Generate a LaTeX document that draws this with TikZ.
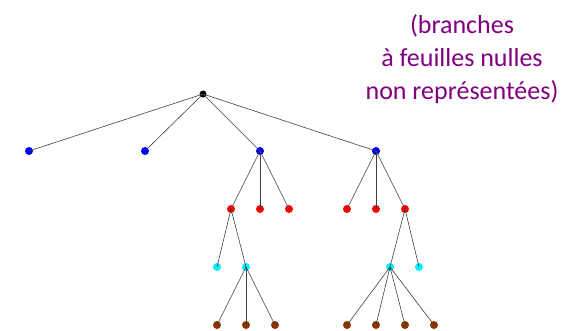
\documentclass[tikz,border=0pt]{standalone}
\usepackage{fontspec}
\setmainfont{Carlito}
\definecolor{notepurple}{RGB}{128,0,128}
\definecolor{leafbrown}{RGB}{140,50,0}
\definecolor{aqua}{RGB}{0,240,255}
\begin{document}
\begin{tikzpicture}[x=1pt,y=-1pt,
  dot/.style={circle,inner sep=0pt,minimum size=8pt,fill=#1},
  branch/.style={draw=black!75,line width=0.6pt},
  note/.style={text=notepurple,font=\fontsize{26}{33}\selectfont,align=center}]
\useasboundingbox (0,0) rectangle (565,330);
% root
\node[dot=black,minimum size=7pt] (r) at (203,94) {};
% first level
\node[dot=blue] (a1) at (29,151) {};
\node[dot=blue] (a2) at (145,151) {};
\node[dot=blue] (a3) at (260,151) {};
\node[dot=blue] (a4) at (376,151) {};
% second level
\node[dot=red] (b1) at (231,209) {};
\node[dot=red] (b2) at (260,209) {};
\node[dot=red] (b3) at (289,209) {};
\node[dot=red] (b4) at (347,209) {};
\node[dot=red] (b5) at (376,209) {};
\node[dot=red] (b6) at (405,209) {};
% third level
\node[dot=aqua] (c1) at (217,267) {};
\node[dot=aqua] (c2) at (246,267) {};
\node[dot=aqua] (c3) at (390,267) {};
\node[dot=aqua] (c4) at (419,267) {};
% leaves
\node[dot=leafbrown] (d1) at (217,325) {};
\node[dot=leafbrown] (d2) at (246,325) {};
\node[dot=leafbrown] (d3) at (275,325) {};
\node[dot=leafbrown] (d4) at (347,325) {};
\node[dot=leafbrown] (d5) at (376,325) {};
\node[dot=leafbrown] (d6) at (405,325) {};
\node[dot=leafbrown] (d7) at (434,325) {};
% branches
\foreach \p/\c in {r/a1,r/a2,r/a3,r/a4,a3/b1,a3/b2,a3/b3,a4/b4,a4/b5,a4/b6,
  b1/c1,b1/c2,b6/c3,b6/c4,c2/d1,c2/d2,c2/d3,c3/d4,c3/d5,c3/d6,c3/d7}
  \draw[branch] (\p.center) -- (\c.center);
\node[note] (txt) at (462,59) {(branches\\à feuilles nulles\\non représentées)};
\end{tikzpicture}
\end{document}
